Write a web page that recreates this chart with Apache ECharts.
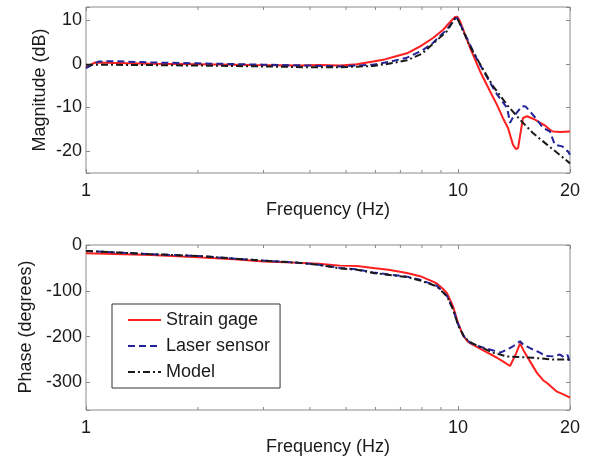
<!DOCTYPE html>
<html><head><meta charset="utf-8">
<script src="https://cdn.jsdelivr.net/npm/echarts@6/dist/echarts.min.js"></script>
<style>html,body{margin:0;padding:0;background:#fff}#c{width:595px;height:461px}</style>
</head><body><div id="c"></div>
<script>
// ---- Data (frequency in Hz, magnitude in dB, phase in degrees) ----
const magStrain = [[1.00,-0.8],[1.03,-0.2],[1.06,0.3],[1.2,0.2],[1.5,0.0],[2.0,-0.1],[2.8,-0.3],[3.76,-0.4],[4.23,-0.3],[4.82,-0.4],[5.35,-0.1],[5.91,0.5],[6.29,0.9],[6.85,1.8],[7.29,2.4],[7.91,4.0],[8.57,5.9],[9.12,7.8],[9.51,9.5],[9.82,10.7],[9.95,10.8],[10.12,9.8],[10.77,3.7],[11.46,-1.7],[12.19,-6.3],[12.73,-9.4],[13.2,-12.4],[13.63,-14.7],[14.05,-18.5],[14.3,-19.5],[14.5,-19.3],[14.95,-12.4],[15.33,-12.0],[15.62,-12.3],[16.11,-12.8],[16.6,-13.5],[17.13,-14.1],[17.67,-15.1],[18.0,-15.5],[18.8,-15.6],[20.0,-15.5]];
const magLaser = [[1.00,-1.0],[1.04,-0.2],[1.08,0.5],[1.18,0.6],[1.5,0.3],[2.0,0.1],[3.0,-0.2],[4.0,-0.4],[4.82,-0.6],[5.91,-0.2],[6.5,0.4],[7.29,1.4],[8.0,3.0],[8.57,4.8],[9.34,7.9],[9.82,10.4],[9.95,10.5],[10.77,4.4],[11.25,1.0],[11.97,-3.1],[12.73,-7.0],[13.55,-10.1],[13.8,-13.5],[14.0,-12.5],[14.23,-11.7],[14.86,-9.7],[15.2,-9.8],[15.62,-10.9],[16.3,-12.8],[16.93,-14.7],[17.67,-15.5],[18.2,-18.5],[19.05,-18.9],[19.76,-20.1],[20.0,-20.8]];
const magModel = [[1.00,-0.2],[1.5,-0.3],[2.0,-0.4],[3.0,-0.6],[4.0,-0.8],[4.82,-0.8],[5.91,-0.5],[6.5,0.0],[7.29,0.8],[8.0,2.3],[8.57,4.6],[9.34,7.5],[9.82,10.4],[9.95,10.5],[10.77,4.0],[11.68,-1.3],[12.42,-5.1],[13.55,-9.4],[14.68,-12.8],[15.92,-15.9],[17.35,-18.5],[18.8,-20.9],[20.0,-22.8]];

const phStrain = [[1.00,-18],[1.5,-22],[2.0,-27],[2.5,-31],[3.0,-36],[3.76,-39],[4.23,-41],[4.82,-45],[5.35,-46],[5.91,-50],[6.5,-54],[7.29,-61],[7.91,-68],[8.57,-80],[8.77,-84],[9.12,-96],[9.34,-105],[9.7,-134],[10.0,-170],[10.3,-196],[10.6,-210],[10.77,-214],[11.46,-226],[12.0,-235],[12.73,-246],[13.2,-254],[13.8,-264],[13.95,-260],[14.3,-238],[14.68,-215],[15.0,-230],[15.33,-243],[16.3,-279],[16.93,-295],[17.35,-301],[18.45,-320],[19.2,-326],[20.0,-333]];
const phLaser = [[1.00,-13],[1.5,-20],[2.0,-24],[3.0,-34],[3.76,-39],[4.23,-43],[4.82,-50],[5.35,-53],[5.91,-60],[7.29,-69],[7.91,-76],[8.77,-89],[9.34,-111],[9.7,-140],[10.0,-173],[10.4,-201],[10.77,-213],[11.25,-220],[12.42,-230],[13.0,-235],[13.55,-228],[14.05,-221],[14.68,-210],[15.0,-218],[15.62,-225],[16.6,-235],[17.2,-242],[18.0,-243],[18.8,-239],[19.3,-245],[19.7,-240],[20.0,-257]];
const phModel = [[1.00,-13],[1.5,-20],[2.0,-24],[3.0,-34],[3.76,-39],[4.23,-43.5],[4.82,-51],[5.35,-54],[5.91,-61],[7.29,-70],[7.91,-77.5],[8.77,-90],[9.34,-112],[9.7,-141],[10.0,-174],[10.4,-202],[10.9,-214],[12.42,-235],[13.55,-243],[15.9,-246],[18.0,-250],[20.0,-250]];

const seriesNames = ['Strain gage','Laser sensor','Model'];
const axisTitles = ['Magnitude (dB)', 'Phase (degrees)'];
const xTickLabels = [1, 10, 20];
const minorTicks = [2,3,4,5,6,7,8,9];
const magRange = [-25, 13];
const phRange = [-360, 0];

// ---- Styles ----
const FONT = '"Liberation Sans", Arial, Helvetica, sans-serif';
const axisGray = '#8a8a8a';
const textColor = '#1a1a1a';
const colors = ['#ff1f1f', '#23239a', '#1a1a1a'];
const dashes = ['solid', [7,4], [7,3,2,3]];

function xAxis(gridIndex, top) {
  return {
    type: 'log', logBase: 10, gridIndex, min: 1, max: 20,
    position: top ? 'top' : 'bottom',
    name: top ? '' : 'Frequency (Hz)', nameLocation: 'middle', nameGap: 25,
    nameTextStyle: {fontFamily: FONT, fontSize: 18, color: textColor},
    axisLine: {show: false, onZero: false},
    axisTick: {show: true, inside: true, length: 4, lineStyle: {color: axisGray}},
    axisLabel: {show: !top, margin: 9, fontFamily: FONT, fontSize: 18, color: textColor,
      formatter: v => { const r = +(+v).toPrecision(3); return xTickLabels.includes(r) ? String(r) : ''; }},
    splitLine: {show: false}, minorTick: {show: false}
  };
}
function yAxis(gridIndex, range, step, right) {
  return {
    type: 'value', gridIndex, min: range[0], max: range[1], minInterval: step, maxInterval: step,
    position: right ? 'right' : 'left',
    axisLine: {show: false, onZero: false},
    axisTick: {show: true, inside: true, length: 4, lineStyle: {color: axisGray}},
    axisLabel: {show: !right, margin: 4, fontFamily: FONT, fontSize: 18, color: textColor,
      formatter: v => (Math.round(v) % step === 0 ? String(Math.round(v)) : '')},
    splitLine: {show: false}
  };
}
function lineSeries(i, data, xi, yi) {
  return {
    type: 'line', name: seriesNames[i], data, xAxisIndex: xi, yAxisIndex: yi,
    symbol: 'none', showSymbol: false, smooth: false, animation: false,
    lineStyle: {color: colors[i], width: 2, type: dashes[i]},
    itemStyle: {color: colors[i]}, z: 3 + i
  };
}
function tickSeries(xi, yi) {
  return {
    type: 'custom', xAxisIndex: xi, yAxisIndex: yi, silent: true, animation: false, z: 10,
    data: minorTicks.map(f => [f, 0]),
    renderItem: (params, api) => {
      const x = api.coord([api.value(0), 0])[0];
      const cs = params.coordSys;
      const st = {stroke: axisGray, lineWidth: 1};
      return {type: 'group', children: [
        {type: 'line', shape: {x1: x, y1: cs.y + cs.height, x2: x, y2: cs.y + cs.height - 3}, style: st},
        {type: 'line', shape: {x1: x, y1: cs.y, x2: x, y2: cs.y + 3}, style: st}
      ]};
    }
  };
}
function axisTitle(text, cx, cy) {
  return {type: 'text', x: cx, y: cy, rotation: Math.PI / 2, silent: true,
    style: {text, fontFamily: FONT, fontSize: 18, fill: textColor, align: 'center', verticalAlign: 'middle'}};
}

const chart = echarts.init(document.getElementById('c'), null, {renderer: 'canvas'});
chart.setOption({
  backgroundColor: '#fff',
  animation: false,
  grid: [
    {left: 86, top: 7, width: 484, height: 166, show: true, borderColor: axisGray, borderWidth: 1, backgroundColor: '#fff'},
    {left: 86, top: 245, width: 484, height: 165, show: true, borderColor: axisGray, borderWidth: 1, backgroundColor: '#fff'}
  ],
  xAxis: [xAxis(0, false), xAxis(0, true), xAxis(1, false), xAxis(1, true)],
  yAxis: [
    yAxis(0, magRange, 10, false), yAxis(0, magRange, 10, true),
    yAxis(1, phRange, 100, false), yAxis(1, phRange, 100, true)
  ],
  graphic: [axisTitle(axisTitles[0], 40, 90), axisTitle(axisTitles[1], 26, 327)],
  legend: {
    data: seriesNames, orient: 'vertical', left: 112, top: 304,
    itemWidth: 33, itemHeight: 12, itemGap: 8, padding: [7, 10, 7, 15],
    borderColor: '#333', borderWidth: 1, backgroundColor: '#fff',
    itemStyle: {opacity: 0},
    textStyle: {fontFamily: FONT, fontSize: 18, color: textColor}
  },
  series: [
    lineSeries(0, magStrain, 0, 0), lineSeries(1, magLaser, 0, 0), lineSeries(2, magModel, 0, 0),
    lineSeries(0, phStrain, 2, 2), lineSeries(1, phLaser, 2, 2), lineSeries(2, phModel, 2, 2),
    tickSeries(0, 0), tickSeries(2, 2)
  ]
});
</script></body></html>
